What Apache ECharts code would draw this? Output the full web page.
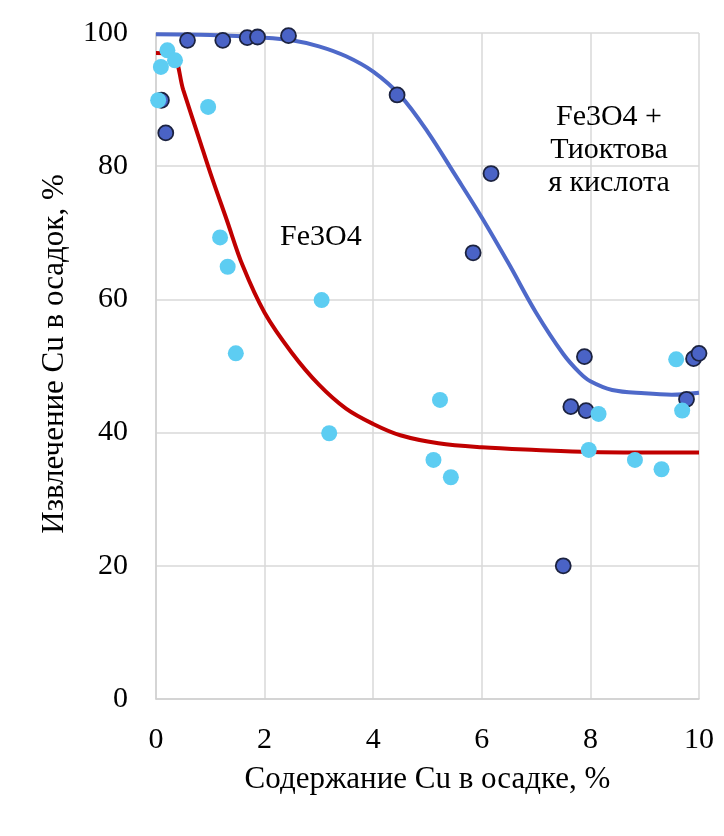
<!DOCTYPE html>
<html>
<head>
<meta charset="utf-8">
<script src="https://cdn.jsdelivr.net/npm/echarts@6/dist/echarts.min.js"></script>
<style>
  html, body { margin: 0; padding: 0; background: #ffffff; }
  #chart { width: 724px; height: 836px; }
</style>
</head>
<body>
<div id="chart"></div>
<script>
// Fe3O4 + thioctic acid: measured points [Cu content, recovery]
const acidPoints = [
  [0.10, 89.9], [0.18, 85.0], [0.58, 98.9], [1.23, 98.9], [1.68, 99.3],
  [1.87, 99.4], [2.44, 99.6], [4.44, 90.7], [5.84, 67.0], [6.17, 78.9],
  [7.50, 20.0], [7.64, 43.9], [7.89, 51.4], [7.92, 43.3], [9.77, 45.0],
  [9.90, 51.1], [10.0, 51.9]
];
// Fe3O4 alone: measured points
const magnetitePoints = [
  [0.04, 89.9], [0.09, 94.9], [0.21, 97.4], [0.35, 95.9], [0.96, 88.9],
  [1.18, 69.3], [1.32, 64.9], [1.47, 51.9], [3.05, 59.9], [3.19, 39.9],
  [5.11, 35.9], [5.23, 44.9], [5.43, 33.3], [7.97, 37.4], [8.15, 42.8],
  [8.82, 35.9], [9.31, 34.5], [9.58, 51.0], [9.69, 43.3]
];
// Trend curves
const acidTrend = [
  [0, 99.8], [1, 99.7], [2, 99.3], [2.5, 98.9], [3.0, 98.0], [3.5, 96.5],
  [4.0, 94.2], [4.5, 90.6], [5.0, 85.2], [5.5, 78.8], [6.0, 72.3],
  [6.5, 65.3], [7.0, 58.0], [7.5, 51.8], [7.8, 49.0], [8.0, 47.7],
  [8.4, 46.4], [9.0, 45.9], [9.5, 45.7], [10, 46.0]
];
const magnetiteTrend = [
  [0, 97.0], [0.3, 96.8], [0.5, 91.5], [0.8, 84.0], [1.0, 79.0],
  [1.3, 72.0], [1.6, 65.0], [2.0, 58.0], [2.5, 52.0], [3.0, 47.2],
  [3.5, 43.6], [4.0, 41.3], [4.5, 39.6], [5.2, 38.4], [6.0, 37.8],
  [7.0, 37.4], [8.0, 37.1], [10, 37.0]
];
const xTitle = 'Содержание Cu в осадке, %';
const yTitle = 'Извлечение Cu в осадок, %';
const labelMagnetite = 'Fe3O4';
const labelAcid = 'Fe3O4 +\nТиоктова\nя кислота';

const FONT = '"Liberation Serif", "Times New Roman", serif';
const chart = echarts.init(document.getElementById('chart'));

chart.setOption({
  backgroundColor: '#ffffff',
  animation: false,
  grid: { left: 156, top: 33, width: 543, height: 666 },
  xAxis: {
    type: 'value', min: 0, max: 10, interval: 2,
    name: xTitle, nameLocation: 'middle', nameGap: 65,
    nameTextStyle: { fontFamily: FONT, fontSize: 31, color: '#000' },
    axisLine: { show: true, lineStyle: { color: '#d0d0d0', width: 1.5 } },
    axisTick: { show: false },
    axisLabel: { fontFamily: FONT, fontSize: 30, color: '#000', margin: 26 },
    splitLine: { show: true, lineStyle: { color: '#d9d9d9', width: 1.5 } }
  },
  yAxis: {
    type: 'value', min: 0, max: 100, interval: 20,
    axisLine: { show: true, lineStyle: { color: '#d0d0d0', width: 1.5 } },
    axisTick: { show: false },
    axisLabel: { fontFamily: FONT, fontSize: 30, color: '#000', margin: 28 },
    splitLine: { show: true, lineStyle: { color: '#d9d9d9', width: 1.5 } }
  },
  series: [
    {
      type: 'line', data: magnetiteTrend, smooth: 0.35,
      symbol: 'none', lineStyle: { color: '#c00000', width: 4 }, z: 2
    },
    {
      type: 'line', data: acidTrend, smooth: 0.35,
      symbol: 'none', lineStyle: { color: '#4e69c9', width: 4 }, z: 2
    },
    {
      type: 'scatter', data: acidPoints, symbolSize: 15,
      itemStyle: { color: '#4a63c6', borderColor: '#1c2340', borderWidth: 1.8, opacity: 1 },
      z: 3
    },
    {
      type: 'scatter', data: magnetitePoints, symbolSize: 16,
      itemStyle: { color: '#5dcdf2', opacity: 1 },
      z: 4
    }
  ],
  graphic: [
    {
      // vertical axis title
      type: 'text', x: 55, y: 354, rotation: Math.PI / 2, z: 10,
      style: {
        text: yTitle, font: '31px ' + FONT, fill: '#000',
        align: 'center', verticalAlign: 'middle'
      }
    },
    {
      type: 'text', left: 280, top: 222, z: 10,
      style: { text: labelMagnetite, font: '30px ' + FONT, fill: '#000' }
    },
    {
      type: 'text', x: 609, y: 101, z: 10,
      style: {
        text: labelAcid, font: '30px ' + FONT, fill: '#000',
        align: 'center', verticalAlign: 'top', lineHeight: 33
      }
    }
  ]
});
</script>
</body>
</html>
